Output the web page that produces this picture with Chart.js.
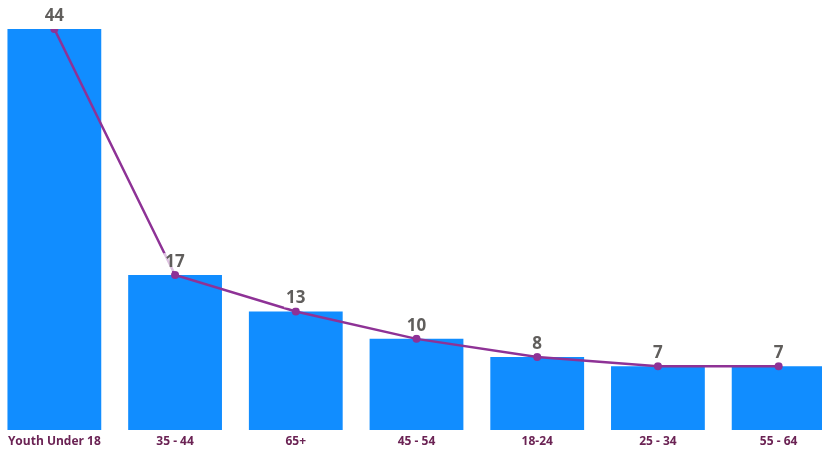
<!DOCTYPE html>
<html>
<head>
<meta charset="utf-8">
<script src="https://cdn.jsdelivr.net/npm/chart.js@4"></script>
<style>
    html, body { margin: 0; padding: 0; background: #ffffff; }
    #wrap { position: relative; width: 822px; height: 453px; overflow: hidden; }
    #chart-box { position: absolute; left: -10px; top: 0; width: 853px; height: 453px; }
</style>
</head>
<body>
<div id="wrap">
    <div id="chart-box"><canvas id="age-chart"></canvas></div>
</div>
<script>
const categories = ['Youth Under 18', '35 - 44', '65+', '45 - 54', '18-24', '25 - 34', '55 - 64'];
const barValues = [44, 17, 13, 10, 8, 7, 7];
const lineValues = [44, 17, 13, 10, 8, 7, 7];

const barColor = '#118DFF';
const lineColor = '#8E3296';
const labelColor = '#605E5C';
const axisColor = '#6B2354';
const fontFamily = '"Open Sans", "Noto Sans", sans-serif';

// value labels over the line points, with a light box behind them
const valueLabels = {
    id: 'valueLabels',
    afterDatasetsDraw(chart) {
        const ctx = chart.ctx;
        const meta = chart.getDatasetMeta(1);
        ctx.save();
        ctx.font = 'bold 17px ' + fontFamily;
        ctx.textAlign = 'center';
        ctx.textBaseline = 'middle';
        meta.data.forEach((pt, i) => {
            const text = String(lineValues[i]);
            const w = ctx.measureText(text).width;
            const y = pt.y - 13;
            ctx.fillStyle = 'rgba(255,255,255,0.7)';
            ctx.fillRect(pt.x - w / 2 - 2, y - 9, w + 4, 18);
            ctx.fillStyle = labelColor;
            ctx.fillText(text, pt.x, y);
        });
        ctx.restore();
    }
};

const ctx = document.getElementById('age-chart').getContext('2d');
new Chart(ctx, {
    data: {
        labels: categories,
        datasets: [
            {
                type: 'bar',
                data: barValues,
                backgroundColor: barColor,
                barPercentage: 0.777,
                categoryPercentage: 1,
                order: 2
            },
            {
                type: 'line',
                data: lineValues,
                borderColor: lineColor,
                backgroundColor: lineColor,
                borderWidth: 2.5,
                pointRadius: 4,
                pointBackgroundColor: lineColor,
                pointBorderWidth: 0,
                tension: 0,
                order: 1
            }
        ]
    },
    options: {
        responsive: true,
        maintainAspectRatio: false,
        animation: false,
        layout: { padding: { top: 29, left: 0, right: 0, bottom: 0 } },
        scales: {
            x: {
                grid: { display: false, drawTicks: false },
                border: { display: false },
                ticks: {
                    color: axisColor,
                    font: { family: fontFamily, size: 12, weight: 'bold' },
                    padding: 4,
                    maxRotation: 0,
                    autoSkip: false
                },
                afterFit: scale => { scale.height = 23; }
            },
            y: {
                display: false,
                min: 0,
                max: 44
            }
        },
        plugins: {
            legend: { display: false },
            tooltip: { enabled: false }
        }
    },
    plugins: [valueLabels]
});
</script>
</body>
</html>
